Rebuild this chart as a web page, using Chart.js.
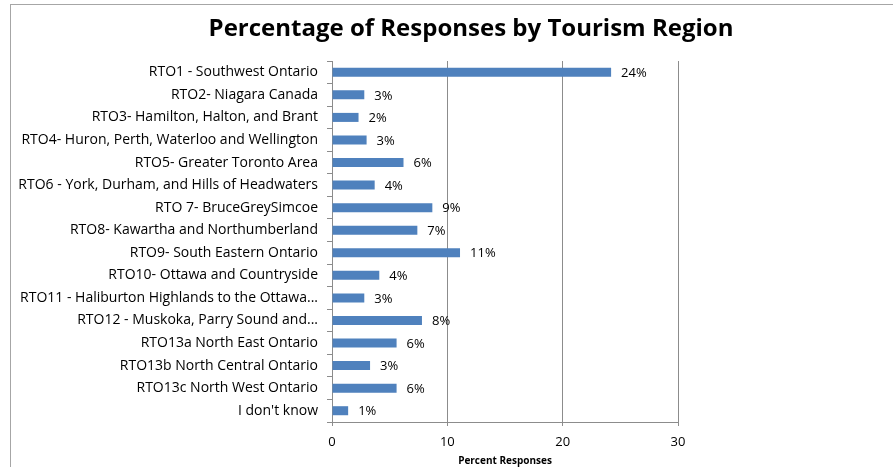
<!DOCTYPE html>
<html>
<head>
<meta charset="utf-8">
<script src="https://cdn.jsdelivr.net/npm/chart.js@4"></script>
<style>
  html, body { margin: 0; padding: 0; background: #fff; }
  #wrap { position: relative; width: 893px; height: 467px; overflow: hidden; }
  #frame { position: absolute; left: 10px; top: 4px; right: -5px; bottom: -5px;
           border-left: 1px solid #a6a6a6; border-top: 1px solid #a6a6a6; pointer-events: none; }
  #title { position: absolute; left: 0; width: 942px; top: 9px; text-align: center;
           font: bold 24px "Open Sans"; color: #000; line-height: 36px; white-space: nowrap; }
  canvas { position: absolute; left: 0; top: 0; }
</style>
</head>
<body>
<div id="wrap">
  <canvas id="chart" width="893" height="467"></canvas>
  <div id="title">Percentage of Responses by Tourism Region</div>
  <div id="frame"></div>
</div>
<script>
'use strict';

// ── data ──────────────────────────────────────────────
const regions = [
  'RTO1 - Southwest Ontario',
  'RTO2- Niagara Canada',
  'RTO3- Hamilton, Halton, and Brant',
  'RTO4- Huron, Perth, Waterloo and Wellington',
  'RTO5- Greater Toronto Area',
  'RTO6 - York, Durham, and Hills of Headwaters',
  'RTO 7- BruceGreySimcoe',
  'RTO8- Kawartha and Northumberland',
  'RTO9- South Eastern Ontario',
  'RTO10- Ottawa and Countryside',
  'RTO11 - Haliburton Highlands to the Ottawa...',
  'RTO12 - Muskoka, Parry Sound and...',
  'RTO13a North East Ontario',
  'RTO13b North Central Ontario',
  'RTO13c North West Ontario',
  "I don't know",
];
const percentResponses = [24.2, 2.8, 2.3, 3.0, 6.2, 3.7, 8.7, 7.4, 11.1, 4.1, 2.8, 7.8, 5.6, 3.3, 5.6, 1.4];
const xTicks = [0, 10, 20, 30];

const FONT = 'Open Sans';
const GRID = '#8c8c8c';

// value labels at bar ends ("24%")
const valueLabels = {
  id: 'valueLabels',
  afterDatasetsDraw(chart) {
    const ctx = chart.ctx;
    const meta = chart.getDatasetMeta(0);
    ctx.save();
    ctx.font = `13px "${FONT}"`;
    ctx.fillStyle = '#000';
    ctx.textAlign = 'left';
    ctx.textBaseline = 'middle';
    meta.data.forEach((bar, i) => {
      ctx.fillText(Math.round(percentResponses[i]) + '%', bar.x + 10, bar.y + 1);
    });
    ctx.restore();
  },
};

const chartCtx = document.getElementById('chart').getContext('2d');
new Chart(chartCtx, {
  type: 'bar',
  data: {
    labels: regions,
    datasets: [{
      data: percentResponses,
      backgroundColor: '#4f81bd',
      borderWidth: 0,
      categoryPercentage: 1,
      barPercentage: 0.4,
    }],
  },
  plugins: [valueLabels],
  options: {
    indexAxis: 'y',
    responsive: false,
    animation: false,
    events: [],
    layout: { padding: { left: 0, right: 215, top: 61, bottom: 0 } },
    plugins: {
      legend: { display: false },
      tooltip: { enabled: false },
      title: { display: false },
    },
    scales: {
      x: {
        min: 0, max: 30,
        afterBuildTicks: s => { s.ticks = xTicks.map(v => ({ value: v })); },
        afterFit: s => { s.height = 45; },
        ticks: { color: '#000', font: { family: FONT, size: 13 }, padding: 8 },
        grid: { color: GRID, lineWidth: 1, tickLength: 4 },
        border: { color: GRID },
        title: {
          display: true, text: 'Percent Responses', color: '#000',
          font: { family: FONT, size: 10, weight: 'bold' }, padding: { top: 0, bottom: 0 },
        },
      },
      y: {
        afterFit: s => { s.width = 332; },
        ticks: { color: '#000', font: { family: FONT, size: 14 }, padding: 9, autoSkip: false },
        grid: { drawOnChartArea: false, color: GRID, tickLength: 5, offset: true },
        border: { color: GRID },
      },
    },
  },
});
</script>
</body>
</html>
